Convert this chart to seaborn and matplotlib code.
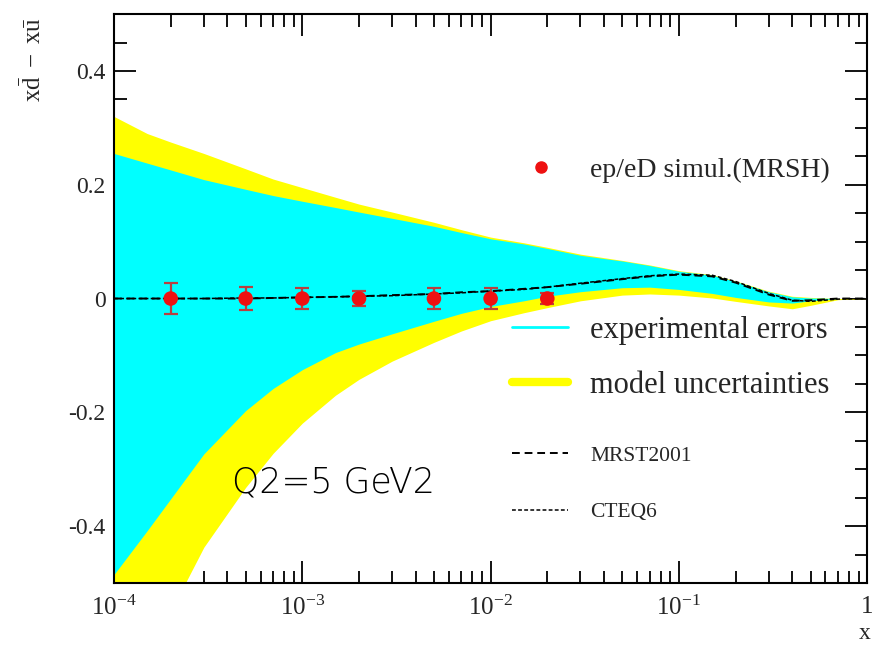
import matplotlib
matplotlib.use("Agg")
import matplotlib.pyplot as plt
from matplotlib.lines import Line2D
from matplotlib.ticker import LogLocator, MultipleLocator, NullFormatter
import seaborn as sns

# ---------------- data ----------------
x_grid = [1e-4, 1.5e-4, 2e-4, 3e-4, 5e-4, 7e-4, 1e-3, 1.5e-3, 2e-3, 3e-3, 5e-3, 7e-3,
          1e-2, 1.5e-2, 2e-2, 3e-2, 5e-2, 7e-2, 0.1, 0.15, 0.2, 0.3, 0.4, 0.5, 0.7, 1.0]
exp_hi = [0.255, 0.238, 0.226, 0.209, 0.192, 0.181, 0.171, 0.160, 0.152, 0.141, 0.127, 0.116,
          0.105, 0.096, 0.088, 0.076, 0.066, 0.058, 0.048, 0.041, 0.030, 0.012, 0.003, 0.001, 0.000, 0.000]
exp_lo = [-0.485, -0.408, -0.352, -0.273, -0.197, -0.158, -0.125, -0.095, -0.080, -0.062, -0.040, -0.026,
          -0.014, -0.004, 0.004, 0.012, 0.019, 0.020, 0.016, 0.009, 0.002, -0.006, -0.008, -0.004, 0.000, 0.000]
mod_hi = [0.320, 0.290, 0.275, 0.255, 0.228, 0.210, 0.195, 0.178, 0.166, 0.152, 0.134, 0.121,
          0.108, 0.098, 0.090, 0.078, 0.067, 0.059, 0.049, 0.042, 0.031, 0.013, 0.004, 0.002, 0.000, 0.000]
mod_lo = [-0.740, -0.640, -0.550, -0.437, -0.332, -0.272, -0.219, -0.170, -0.142, -0.110, -0.077, -0.057,
          -0.039, -0.025, -0.016, -0.004, 0.006, 0.008, 0.006, 0.001, -0.005, -0.013, -0.018, -0.012, -0.002, 0.000]
mrst2001 = [0.0, 0.0, 0.0, 0.0, 0.0, 0.001, 0.002, 0.003, 0.004, 0.006, 0.008, 0.011,
            0.013, 0.017, 0.020, 0.026, 0.034, 0.039, 0.042, 0.039, 0.028, 0.007, -0.004, -0.003, 0.0, 0.0]
cteq6 = [0.0, 0.0, 0.0, 0.0, 0.001, 0.001, 0.002, 0.003, 0.004, 0.005, 0.008, 0.010,
         0.013, 0.016, 0.020, 0.027, 0.035, 0.040, 0.043, 0.041, 0.030, 0.009, -0.003, -0.005, -0.001, 0.0]

sim_x = [2e-4, 5e-4, 1e-3, 2e-3, 5e-3, 1e-2, 2e-2]
sim_y = [0.0, 0.0, 0.0, 0.0, 0.0, 0.0, 0.0]
sim_err = [0.028, 0.021, 0.019, 0.014, 0.018, 0.018, 0.010]

x_major_ticks = [1e-4, 1e-3, 1e-2, 1e-1, 1.0]
x_tick_labels = [r"$10^{-4}$", r"$10^{-3}$", r"$10^{-2}$", r"$10^{-1}$", "1"]
y_major_ticks = [-0.4, -0.2, 0.0, 0.2, 0.4]
y_tick_labels = ["-0.4", "-0.2", "0", "0.2", "0.4"]

legend_labels = ["ep/eD simul.(MRSH)", "experimental errors", "model uncertainties", "MRST2001", "CTEQ6"]

# ---------------- style ----------------
sns.set_theme(style="ticks")
plt.rcParams["font.family"] = ["Liberation Serif", "DejaVu Sans"]
plt.rcParams["mathtext.fontset"] = "custom"
plt.rcParams["mathtext.rm"] = "Liberation Serif"
plt.rcParams["mathtext.it"] = "Liberation Serif:italic"
plt.rcParams["mathtext.bf"] = "Liberation Serif:bold"

CYAN = "#00ffff"
YELLOW = "#ffff00"
RED = "#ee1111"

fig = plt.figure(figsize=(8.84, 6.48), dpi=100)
ax = fig.add_axes([0.129, 0.1003, 0.852, 0.878])
ax.set_xscale("log")

ax.fill_between(x_grid, mod_lo, mod_hi, color=YELLOW, lw=0, zorder=1)
ax.fill_between(x_grid, exp_lo, exp_hi, color=CYAN, lw=0, zorder=2)

sns.lineplot(x=x_grid, y=mrst2001, ax=ax, color="black", lw=1.4,
             linestyle=(0, (4, 2.5)), zorder=3)
sns.lineplot(x=x_grid, y=cteq6, ax=ax, color="black", lw=1.1,
             linestyle=(0, (2.5, 1.5)), zorder=3)

ax.errorbar(sim_x, sim_y, yerr=sim_err, fmt="none", ecolor="#b84040",
            elinewidth=1.6, capsize=5, capthick=1.6, zorder=4)
sns.scatterplot(x=sim_x, y=sim_y, ax=ax, color=RED, s=110, edgecolor="none", zorder=5)

ax.set_xlim(1e-4, 1.0)
ax.set_ylim(-0.5, 0.5)

ax.set_xticks(x_major_ticks)
ax.set_xticklabels(x_tick_labels)
ax.xaxis.set_minor_locator(LogLocator(base=10, subs=range(2, 10), numticks=20))
ax.xaxis.set_minor_formatter(NullFormatter())
ax.set_yticks(y_major_ticks)
ax.set_yticklabels(y_tick_labels)
ax.yaxis.set_minor_locator(MultipleLocator(0.05))

for s in ax.spines.values():
    s.set_visible(True)
    s.set_linewidth(1.5)
    s.set_color("black")
    s.set_zorder(10)

ax.tick_params(which="both", direction="in", top=True, right=True, width=1.3, color="black")
ax.tick_params(which="major", length=16)
ax.tick_params(which="minor", length=9)
ax.tick_params(axis="x", which="major", labelsize=18, pad=9)
ax.tick_params(axis="y", which="major", labelsize=17, pad=6)

ax.set_ylabel(r"$\mathrm{x\bar{d}\ -\ x\bar{u}}$", fontsize=18, loc="top")
ax.yaxis.set_label_coords(-0.09, 0.995)
ax.set_xlabel("x", fontsize=17, loc="right")
ax.xaxis.set_label_coords(1.004, -0.07)

ax.text(0.157, 0.1775, "Q2=5 GeV2", transform=ax.transAxes, family="DejaVu Sans",
        fontweight="light", fontsize=25, ha="left", va="center", color="black", zorder=6)

# legends
h1 = [Line2D([], [], marker="o", color=RED, ls="none", ms=8)]
leg1 = ax.legend(h1, legend_labels[:1], loc="center left", bbox_to_anchor=(0.548, 0.726),
                 frameon=False, fontsize=20, handlelength=1.0, handletextpad=1.27,
                 borderpad=0, borderaxespad=0)
ax.add_artist(leg1)

h2 = [Line2D([], [], color=CYAN, lw=2), Line2D([], [], color=YELLOW, lw=6)]
leg2 = ax.legend(h2, legend_labels[1:3], loc="center left", bbox_to_anchor=(0.529, 0.3954),
                 frameon=False, fontsize=22, handlelength=1.83, handletextpad=0.72,
                 labelspacing=0.86, borderpad=0, borderaxespad=0)
ax.add_artist(leg2)

h3 = [Line2D([], [], color="black", lw=1.4, ls=(0, (4, 2.5))),
      Line2D([], [], color="black", lw=1.1, ls=(0, (2.5, 1.5)))]
leg3 = ax.legend(h3, legend_labels[3:], loc="center left", bbox_to_anchor=(0.529, 0.174),
                 frameon=False, fontsize=15.5, handlelength=2.6, handletextpad=1.02,
                 labelspacing=1.67, borderpad=0, borderaxespad=0)

fig.savefig("out.png", dpi=100)
